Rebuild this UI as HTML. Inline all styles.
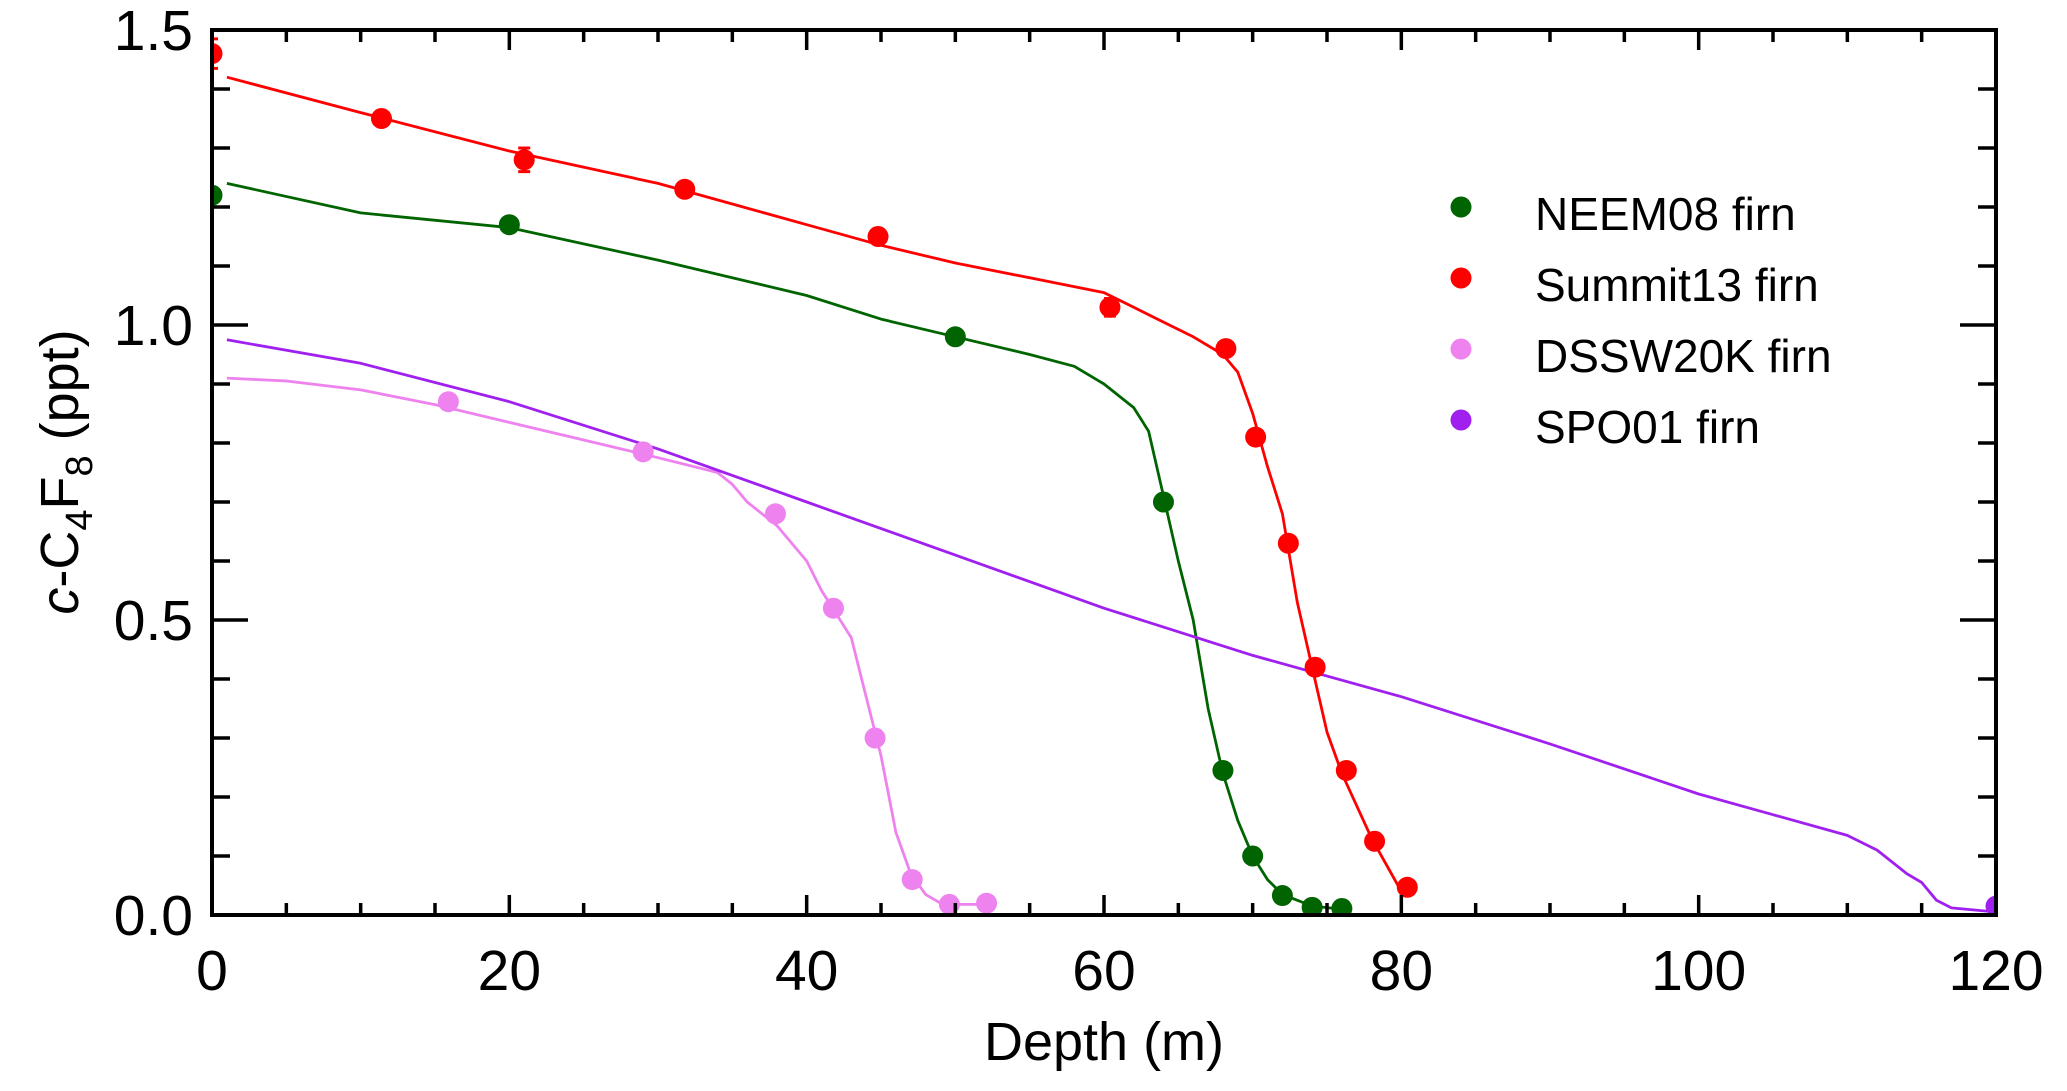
<!DOCTYPE html>
<html><head><meta charset="utf-8"><style>
body{margin:0;background:#fff;}
svg{display:block;font-family:"Liberation Sans",Arial,sans-serif;}
</style></head><body>
<svg id="chart" width="2067" height="1091" viewBox="0 0 2067 1091" xmlns="http://www.w3.org/2000/svg">
<g id="lines"></g>
<g id="points"></g>
<g id="axes"></g>
<g id="legend"></g>
<text x="1104" y="1060" font-size="54" text-anchor="middle">Depth (m)</text>
<text transform="translate(78,472) rotate(-90)" font-size="54" text-anchor="middle"><tspan font-style="italic">c</tspan>-C<tspan font-size="38" dy="14">4</tspan><tspan dy="-14">F</tspan><tspan font-size="38" dy="14">8</tspan><tspan dy="-14"> (ppt)</tspan></text>
</svg>
<script>
const xTicks=[0,20,40,60,80,100,120];
const yTicks=[0.0,0.5,1.0,1.5];
const seriesNames=["NEEM08 firn","Summit13 firn","DSSW20K firn","SPO01 firn"];
const seriesColors=["#006400","#ff0000","#ee82ee","#a020f0"];
const neemPtX=[0,20,50,64,68,70,72,74,76];
const neemPtY=[1.22,1.17,0.98,0.70,0.245,0.10,0.033,0.013,0.011];
const neemLineX=[1,10,20,30,40,45,50,55,58,60,62,63,64,65,66,67,68,69,70,71,72,74,76];
const neemLineY=[1.24,1.19,1.165,1.11,1.05,1.01,0.98,0.95,0.93,0.90,0.86,0.82,0.71,0.6,0.5,0.35,0.24,0.16,0.10,0.06,0.035,0.015,0.01];
const sumPtX=[0,11.4,21,31.8,44.8,60.4,68.2,70.2,72.4,74.2,76.3,78.2,80.4];
const sumPtY=[1.46,1.35,1.28,1.23,1.15,1.03,0.96,0.81,0.63,0.42,0.245,0.125,0.047];
const sumErr=[0.025,0.01,0.02,0.01,0.01,0.015,0.01,0.01,0.012,0.01,0.01,0.01,0.01];
const sumLineX=[1,10,20,30,35,40,45,50,55,60,62,64,66,68,69,70,71,72,73,74,75,76,78,80];
const sumLineY=[1.42,1.36,1.295,1.24,1.205,1.17,1.135,1.105,1.08,1.055,1.03,1.005,0.98,0.95,0.92,0.85,0.76,0.68,0.53,0.42,0.31,0.24,0.13,0.04];
const dsPtX=[15.9,29,37.9,41.8,44.6,47.1,49.6,52.1];
const dsPtY=[0.87,0.785,0.68,0.52,0.30,0.06,0.018,0.02];
const dsLineX=[1,5,10,15,20,25,30,34,35,36,38,40,41,42,43,44,45,46,47,48,49,50,52];
const dsLineY=[0.91,0.905,0.89,0.865,0.835,0.805,0.775,0.75,0.73,0.70,0.66,0.60,0.55,0.51,0.47,0.37,0.27,0.14,0.07,0.035,0.02,0.018,0.018];
const spoPtX=[120];
const spoPtY=[0.015];
const spoLineX=[1,10,20,30,40,50,60,70,80,90,100,105,110,112,114,115,116,117,120];
const spoLineY=[0.975,0.935,0.87,0.79,0.70,0.61,0.52,0.44,0.37,0.29,0.205,0.17,0.135,0.11,0.07,0.055,0.025,0.012,0.005];

const NS="http://www.w3.org/2000/svg";
const L=212,R=1996,T=30,B=915;
function sx(v){return L+(v-0)/(120-0)*(R-L);}
function sy(v){return B-(v-0)/(1.5-0)*(B-T);}
function mk(tag,attrs,parent){const e=document.createElementNS(NS,tag);for(const k in attrs)e.setAttribute(k,attrs[k]);parent.appendChild(e);return e;}
const gl=document.getElementById('lines'),gp=document.getElementById('points'),ga=document.getElementById('axes'),gg=document.getElementById('legend');
const lineSets=[[neemLineX,neemLineY],[sumLineX,sumLineY],[dsLineX,dsLineY],[spoLineX,spoLineY]];
const ptSets=[[neemPtX,neemPtY],[sumPtX,sumPtY],[dsPtX,dsPtY],[spoPtX,spoPtY]];
const lineNames=['neem08-model-line','summit13-model-line','dssw20k-model-line','spo01-model-line'];
const ptNames=['neem08-point','summit13-point','dssw20k-point','spo01-point'];
lineSets.forEach((s,i)=>{
  const d=s[0].map((x,j)=>(j?'L':'M')+sx(x).toFixed(1)+','+sy(s[1][j]).toFixed(1)).join(' ');
  const p=mk('path',{d:d,fill:'none',stroke:seriesColors[i],'stroke-width':2.8,'stroke-linejoin':'round'},gl);
  
  
});
const clip=mk('clipPath',{id:'pc'},document.getElementById('chart'));
mk('rect',{x:L,y:0,width:R-L,height:B},clip);
gp.setAttribute('clip-path','url(#pc)');
ptSets.forEach((s,i)=>{
  s[0].forEach((x,j)=>{
    const cx=sx(x),cy=sy(s[1][j]);
    if(i===1){const e=sumErr[j];const y1=sy(s[1][j]+e),y2=sy(s[1][j]-e);
      const eb=mk('path',{d:`M${cx-6},${y1}H${cx+6}M${cx},${y1}V${y2}M${cx-6},${y2}H${cx+6}`,stroke:seriesColors[i],'stroke-width':3,fill:'none'},gp);
      
      
    }
    const c=mk('circle',{cx:cx,cy:cy,r:10.5,fill:seriesColors[i]},gp);
    
    
  });
});
const fr=mk('rect',{x:L,y:T,width:R-L,height:B-T,fill:'none',stroke:'#000','stroke-width':4},ga);


for(let v=0;v<=120;v+=5){
  const major=v%20===0,len=major?20:12;
  mk('line',{x1:sx(v),x2:sx(v),y1:B,y2:B-len,stroke:'#000','stroke-width':3.5},ga);
  mk('line',{x1:sx(v),x2:sx(v),y1:T,y2:T+len,stroke:'#000','stroke-width':3.5},ga);
}
for(let k=0;k<=15;k++){
  const v=k/10,major=k%5===0,len=major?36:18;
  mk('line',{x1:L,x2:L+len,y1:sy(v),y2:sy(v),stroke:'#000','stroke-width':3.5},ga);
  mk('line',{x1:R,x2:R-len,y1:sy(v),y2:sy(v),stroke:'#000','stroke-width':3.5},ga);
}
xTicks.forEach(v=>{const t=mk('text',{x:sx(v),y:990,'font-size':57,'text-anchor':'middle'},ga);t.textContent=v;
  
  });
yTicks.forEach(v=>{const t=mk('text',{x:193,y:sy(v)+20,'font-size':57,'text-anchor':'end'},ga);t.textContent=v.toFixed(1);
  
  });
seriesNames.forEach((n,i)=>{
  const y=207+i*71;
  const c=mk('circle',{cx:1461,cy:y,r:10.5,fill:seriesColors[i]},gg);
  
  
  const t=mk('text',{x:1535,y:y+23,'font-size':46},gg);t.textContent=n;
  
  
});
</script>
</body></html>
